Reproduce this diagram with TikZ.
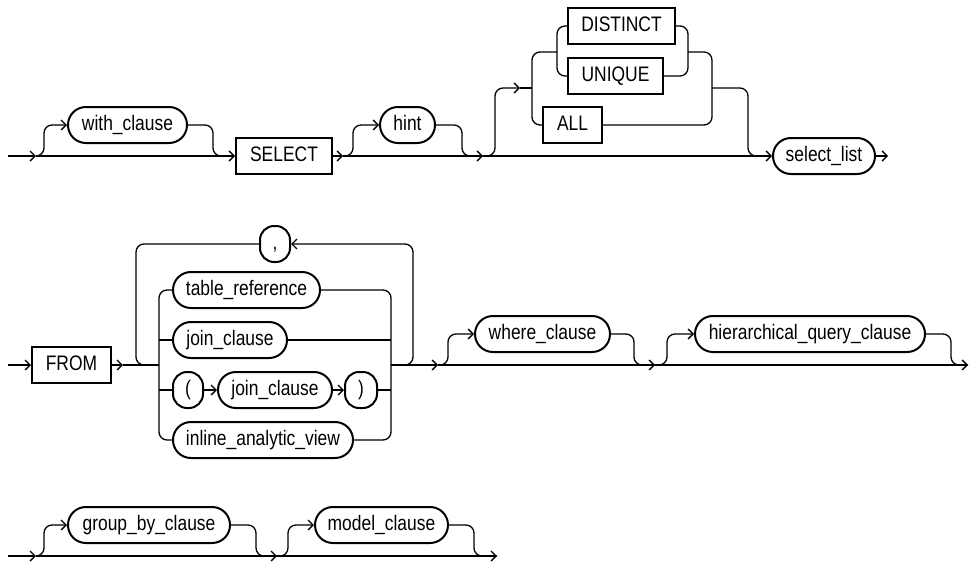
\documentclass[tikz,border=0pt]{standalone}
\usepackage{fontspec}
\setmainfont{Liberation Sans}[FakeStretch=0.83]
\usetikzlibrary{arrows.meta}
\begin{document}
\begin{tikzpicture}[x=1pt,y=-1pt,line width=1.3pt,
  >={Straight Barb[length=5pt,width=10pt]},
  lbl/.style={inner sep=0pt,text height=15pt,text depth=4pt,minimum height=36pt,
    font=\fontsize{21}{24}\selectfont},
  pill/.style={lbl,draw,line width=2pt,rounded corners=17.9pt},
  spill/.style={lbl,draw,line width=2pt,rounded corners=14pt},
  kw/.style={lbl,draw,line width=2pt},
  rc/.style={rounded corners=8pt}]
\useasboundingbox (0,0) rectangle (969,562);
% ---------- row 1 ----------
\node[pill,minimum width=119pt] (with) at (127.5,125) {with\_clause};
\node[kw,minimum width=96pt] (select) at (284,156) {SELECT};
\node[pill,minimum width=55pt] (hint) at (407.5,125) {hint};
\node[kw,minimum width=107pt] (distinct) at (621.5,26) {DISTINCT};
\node[kw,minimum width=95pt] (unique) at (615.5,76) {UNIQUE};
\node[kw,minimum width=59pt] (all) at (572.5,125) {ALL};
\node[pill,minimum width=102pt] (selectlist) at (824,156) {select\_list};
\coordinate (s1) at (8,156);
\coordinate (t1) at (36,156);
\coordinate (m1) at (222,156);
\coordinate (t2) at (343,156);
\coordinate (t3) at (483,156);
\coordinate (t4) at (520,88);
\coordinate (j1) at (532,88);
\coordinate (jL) at (532,52);
\coordinate (iL) at (557,52);
\coordinate (iR) at (688,52);
\coordinate (jR) at (712,88);
\coordinate (m2) at (760,156);
\coordinate (e1) at (888,156);
\draw[->] (s1) -- (t1);
\draw[->] (t1) -- (select.west);
\draw[->,rc] (t1) -- ++(8,0) |- (with.west);
\draw[rc] (with.east) -- ++(25,0) |- (m1);
\draw[->] (select.east) -- (t2);
\draw[->,rc] (t2) -- ++(10,0) |- (hint.west);
\draw[rc] (hint.east) -- ++(26,0) |- (t3);
\draw[->] (t2) -- (t3);
\draw[->] (t3) -- (selectlist.west);
\draw[->,rc] (t3) -- ++(12,0) |- (t4);
\draw (t4) -- (j1);
\draw[rc] (all.west) -| (jL) -- (iL);
\draw[rc] (distinct.west) -| (iL) |- (unique.west);
\draw[rc] (distinct.east) -| (iR) |- (unique.east);
\draw[rc] (iR) -| (jR) |- (all.east);
\draw[rc] (jR) -- ++(36,0) |- (m2);
\draw[->] (selectlist.east) -- (e1);
% ---------- row 2 ----------
\node[kw,minimum width=79pt] (from) at (71.5,365) {FROM};
\node[spill,minimum width=30pt] (comma) at (275,244) {,};
\node[pill,minimum width=147pt] (tabref) at (246.5,290) {table\_reference};
\node[pill,minimum width=114pt] (join) at (230,340) {join\_clause};
\node[spill,minimum width=30pt] (lpar) at (188,390) {(};
\node[pill,minimum width=114pt] (join2) at (275,390) {join\_clause};
\node[spill,minimum width=32pt] (rpar) at (361,390) {)};
\node[pill,minimum width=180pt] (inline) at (263,440) {inline\_analytic\_view};
\node[pill,minimum width=135pt] (where) at (542.5,334) {where\_clause};
\node[pill,minimum width=230pt] (hier) at (810,334) {hierarchical\_query\_clause};
\coordinate (s2) at (8,365);
\coordinate (t5) at (123,365);
\coordinate (lpL) at (136,365);
\coordinate (cL) at (159,365);
\coordinate (cR) at (391,365);
\coordinate (lpR) at (413,365);
\coordinate (t6) at (438,365);
\coordinate (t7) at (655,365);
\coordinate (e2) at (968,365);
\draw[->] (s2) -- (from.west);
\draw[->] (from.east) -- (t5);
\draw (t5) -- (cL);
\draw[rc] (comma.west) -| (lpL) -- ++(11,0);
\draw[rc] (tabref.west) -| (cL) |- (inline.west);
\draw (cL |- join.west) -- (join.west);
\draw (cL |- lpar.west) -- (lpar.west);
\draw[rc] (tabref.east) -| (cR) |- (inline.east);
\draw (join.east) -- (cR |- join.east);
\draw (rpar.east) -- (cR |- rpar.east);
\draw[->] (lpar.east) -- (join2.west);
\draw[->] (join2.east) -- (rpar.west);
\draw[->,rc] (cR) -- (lpR) |- (comma.east);
\draw[->] (cR) -- (t6);
\draw[->,rc] (t6) -- ++(10,0) |- (where.west);
\draw[rc] (where.east) -- ++(23,0) |- (t7);
\draw[->] (t6) -- (t7);
\draw[->,rc] (t7) -- ++(12,0) |- (hier.west);
\draw[rc] (hier.east) -- ++(25,0) |- (e2);
\draw[->] (t7) -- (e2);
% ---------- row 3 ----------
\node[pill,minimum width=162pt] (group) at (149,525) {group\_by\_clause};
\node[pill,minimum width=133pt] (model) at (381.5,525) {model\_clause};
\coordinate (s3) at (8,556);
\coordinate (t8) at (36,556);
\coordinate (t9) at (277,556);
\coordinate (e3) at (497,556);
\draw[->] (s3) -- (t8);
\draw[->,rc] (t8) -- ++(8,0) |- (group.west);
\draw[rc] (group.east) -- ++(25,0) |- (t9);
\draw[->] (t8) -- (t9);
\draw[->,rc] (t9) -- ++(11,0) |- (model.west);
\draw[rc] (model.east) -- ++(25,0) |- (e3);
\draw[->] (t9) -- (e3);
\end{tikzpicture}
\end{document}
